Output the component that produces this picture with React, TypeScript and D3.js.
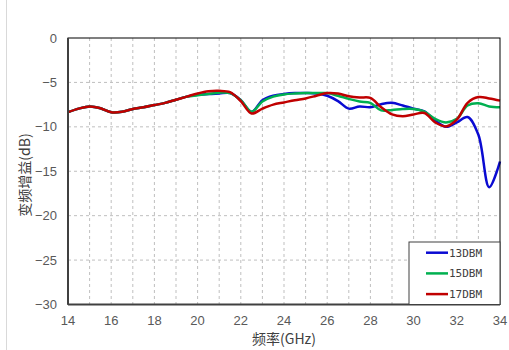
import React from 'react';
import * as d3 from 'd3';

// frequency points (GHz)
const freqs = [
  14, 14.5, 15, 15.5, 16, 16.5, 17, 17.5, 18, 18.5, 19, 19.5, 20, 20.5, 21, 21.5,
  22, 22.5, 23, 23.5, 24, 24.5, 25, 25.5, 26, 26.5, 27, 27.5, 28, 28.5, 29, 29.5,
  30, 30.5, 31, 31.5, 32, 32.5, 33, 33.5, 34,
];

const gain13 = [
  -8.35, -7.95, -7.7, -7.9, -8.35, -8.3, -8.0, -7.8, -7.55, -7.3, -6.95, -6.6, -6.4, -6.3, -6.25, -6.2,
  -7.0, -8.3, -7.0, -6.5, -6.3, -6.2, -6.2, -6.25, -6.5, -7.1, -7.95, -7.7, -7.8, -7.45, -7.3, -7.6,
  -7.95, -8.25, -9.3, -10.0, -9.5, -8.9, -10.9, -16.8, -13.9,
];

const gain15 = [
  -8.35, -7.95, -7.7, -7.9, -8.35, -8.3, -8.0, -7.8, -7.55, -7.3, -6.95, -6.6, -6.45, -6.3, -6.15, -6.2,
  -7.0, -8.3, -7.15, -6.6, -6.35, -6.25, -6.2, -6.2, -6.2, -6.5, -6.85, -7.15, -7.3, -8.15, -8.1, -8.0,
  -8.0, -8.3, -9.1, -9.5, -9.1, -7.6, -7.35, -7.7, -7.8,
];

const gain17 = [
  -8.35, -7.95, -7.7, -7.9, -8.35, -8.3, -8.0, -7.8, -7.55, -7.3, -6.95, -6.6, -6.25, -6.0, -5.95, -6.1,
  -7.1, -8.5, -7.95, -7.5, -7.25, -7.0, -6.8, -6.5, -6.2, -6.25, -6.55, -6.7, -6.75, -7.8, -8.6, -8.8,
  -8.6, -8.45, -9.5, -9.95, -9.2, -7.3, -6.65, -6.8, -7.05,
];

const seriesNames = ['13DBM', '15DBM', '17DBM'];
const seriesColors = ['#0a0ad2', '#00b050', '#c00000'];
const xTicks = [14, 16, 18, 20, 22, 24, 26, 28, 30, 32, 34];
const yTicks = [0, -5, -10, -15, -20, -25, -30];

const W = 509;
const H = 350;
const m = { left: 68, right: 9, top: 38, bottom: 45.5 };

export default function App() {
  const x = d3.scaleLinear().domain([14, 34]).range([m.left, W - m.right]);
  const y = d3.scaleLinear().domain([-30, 0]).range([H - m.bottom, m.top]);

  const line = d3
    .line<number>()
    .x((_, i) => x(freqs[i]))
    .y((d) => y(d))
    .curve(d3.curveCatmullRom.alpha(0.5));

  const all = [gain13, gain15, gain17];
  const minorX = d3.range(15, 34, 1);
  const fmt = d3.format('');

  const legX = 409;
  const legY = 242;

  return (
    <div style={{ position: 'absolute', left: 0, top: 0 }}>
      <svg width={W} height={H} style={{ display: 'block', background: '#fff' }}>
        <line x1={6.5} x2={6.5} y1={0} y2={H} stroke="#d9d9d9" />

        {/* grid */}
        {minorX.map((v) => (
          <line key={'gx' + v} x1={x(v)} x2={x(v)} y1={y(0)} y2={y(-30)}
            stroke="#bfbfbf" strokeDasharray="3,3" />
        ))}
        {yTicks.slice(1, -1).map((v) => (
          <line key={'gy' + v} x1={x(14)} x2={x(34)} y1={y(v)} y2={y(v)}
            stroke="#bfbfbf" strokeDasharray="3,3" />
        ))}

        {/* series */}
        {all.map((s, i) => (
          <path key={seriesNames[i]} d={line(s) || ''} fill="none"
            stroke={seriesColors[i]} strokeWidth={2.5} strokeLinejoin="round" />
        ))}

        {/* frame */}
        <rect x={x(14)} y={y(0)} width={x(34) - x(14)} height={y(-30) - y(0)}
          fill="none" stroke="#000" strokeWidth={1} />
        <line x1={x(14)} x2={x(14)} y1={y(0)} y2={y(-30)} stroke="#404040" strokeWidth={2} />
        <line x1={x(14)} x2={x(34)} y1={y(-30)} y2={y(-30)} stroke="#404040" strokeWidth={2} />

        {/* ticks */}
        {yTicks.map((v) => (
          <text key={'yt' + v} x={57} y={y(v)} dy="0.35em" textAnchor="end"
            fontFamily="Liberation Sans, Arial, sans-serif" fontSize={13} fill="#595959">
            {fmt(v)}
          </text>
        ))}
        {xTicks.map((v) => (
          <text key={'xt' + v} x={x(v)} y={325} textAnchor="middle"
            fontFamily="Liberation Sans, Arial, sans-serif" fontSize={13} fill="#595959">
            {v}
          </text>
        ))}

        {/* axis titles */}
        <text x={284} y={344} textAnchor="middle" fontFamily="Noto Sans CJK SC"
          fontSize={14} fill="#404040">频率(GHz)</text>
        <text transform={`translate(30,${175}) rotate(-90)`} textAnchor="middle"
          fontFamily="Noto Sans CJK SC" fontSize={14} fill="#404040">变频增益(dB)</text>

        {/* legend */}
        <rect x={legX} y={legY} width={x(34) - legX} height={y(-30) - legY}
          fill="#fff" stroke="#404040" strokeWidth={1} />
        {seriesNames.map((n, i) => (
          <g key={'lg' + n} transform={`translate(0,${legY + 10.7 + i * 20.7})`}>
            <line x1={426} x2={448} y1={0} y2={0} stroke={seriesColors[i]} strokeWidth={2.5} />
            <text x={449} y={0} dy="0.35em" fontFamily="DejaVu Sans Mono" fontSize={11}
              fill="#404040">{n}</text>
          </g>
        ))}
      </svg>
    </div>
  );
}
